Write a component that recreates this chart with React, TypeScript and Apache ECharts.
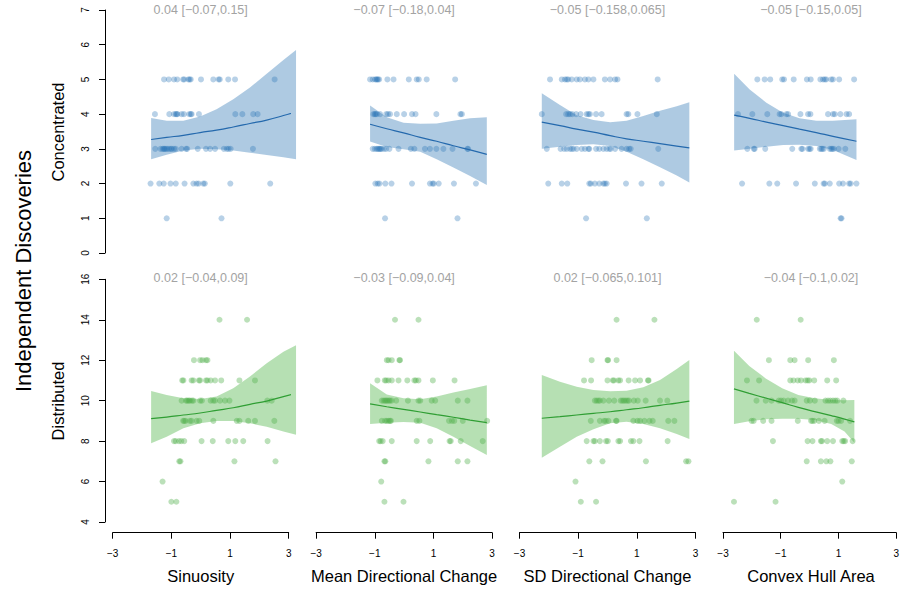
import React, { useEffect, useRef } from "react";
import * as echarts from "echarts";

// ---------- labels ----------
const xNames = ["Sinuosity", "Mean Directional Change", "SD Directional Change", "Convex Hull Area"];
const rowNames = ["Concentrated", "Distributed"];
const outerName = "Independent Discoveries";
const concAnnot = ["0.04 [\u22120.07,0.15]", "\u22120.07 [\u22120.18,0.04]", "\u22120.05 [\u22120.158,0.065]", "\u22120.05 [\u22120.15,0.05]"];
const distAnnot = ["0.02 [\u22120.04,0.09]", "\u22120.03 [\u22120.09,0.04]", "0.02 [\u22120.065,0.101]", "\u22120.04 [\u22120.1,0.02]"];

// axis ranges
const xRange = [-3, 3, 2]; // min, max, step
const concRange = [0, 7, 1];
const distRange = [4, 16, 2];

type Rows = [number, number[]][];

// ---------- points: [y level, x values] ----------
const concSinuosity: Rows = [
  [5, [-1.25, -1.09, -0.91, -0.8, -0.6, -0.56, -0.42, -0.38, -0.34, 0.01, 0.43, 0.61, 0.65, 0.94, 1.17, 2.52]],
  [4, [-1.56, -1.07, -0.91, -0.85, -0.82, -0.79, -0.65, -0.57, -0.39, -0.34, -0.31, -0.06, 1.18, 1.42, 1.79, 1.94]],
  [3, [-1.55, -1.37, -1.3, -1.26, -1.23, -1.19, -1.14, -1.08, -1.02, -0.98, -0.91, -0.85, -0.65, -0.5, -0.46, -0.1, 0.18, 0.32, 0.49, 0.79, 0.89, 0.95, 1.02, 1.78]],
  [2, [-1.71, -1.41, -1.26, -1.03, -0.85, -0.55, -0.25, -0.14, -0.07, 0.09, 0.14, 1.01, 2.37]],
  [1, [-1.16, 0.71]],
];
const concMeanDir: Rows = [
  [5, [-1.16, -1.07, -0.99, -0.95, -0.92, -0.89, -0.85, -0.57, -0.36, 0.16, 0.43, 0.5, 0.77, 1.74]],
  [4, [-1.05, -1.0, -0.97, -0.93, -0.82, -0.61, -0.55, -0.48, -0.25, 0.0, 0.27, 0.39, 1.1, 1.92, 1.97]],
  [3, [-1.07, -1.0, -0.94, -0.9, -0.86, -0.83, -0.8, -0.76, -0.68, -0.61, -0.5, -0.19, 0.23, 0.35, 0.71, 0.88, 1.1, 1.34, 1.65, 2.16, 2.18]],
  [2, [-0.98, -0.9, -0.84, -0.64, -0.43, 0.27, 0.88, 0.97, 1.01, 1.18, 1.7, 2.45]],
  [1, [-0.65, 1.82]],
];
const concSdDir: Rows = [
  [5, [-1.96, -1.56, -1.45, -1.39, -1.34, -1.22, -1.05, -0.94, -0.77, -0.65, -0.48, -0.09, 0.09, 0.26, 0.34, 1.71]],
  [4, [-2.24, -1.41, -1.34, -1.28, -1.2, -1.07, -0.92, -0.71, -0.65, -0.6, -0.39, -0.2, 0.65, 0.71, 1.02, 1.68]],
  [3, [-2.07, -1.6, -1.48, -1.39, -1.28, -1.22, -1.16, -1.05, -0.88, -0.77, -0.65, -0.62, -0.39, -0.28, -0.14, -0.03, 0.06, 0.11, 0.26, 0.48, 0.65, 0.74, 0.79, 1.73]],
  [2, [-2.02, -1.56, -1.37, -0.62, -0.57, -0.43, -0.28, -0.14, -0.09, -0.03, 0.63, 1.16, 1.85]],
  [1, [-0.73, 1.34]],
];
const concHull: Rows = [
  [5, [-1.83, -1.58, -1.39, -0.98, -0.92, -0.59, -0.14, -0.01, 0.32, 0.41, 0.47, 0.52, 0.69, 0.75, 0.96, 1.47]],
  [4, [-2.49, -2.0, -1.49, -1.07, -1.01, -0.84, -0.78, -0.36, -0.1, -0.02, 0.58, 0.75, 0.81, 1.0, 1.21, 1.3]],
  [3, [-2.17, -1.95, -1.92, -1.56, -0.64, -0.33, -0.29, -0.1, -0.05, -0.01, 0.3, 0.35, 0.39, 0.44, 0.64, 0.69, 0.73, 0.78, 0.94, 1.17]],
  [2, [-2.35, -1.42, -1.15, -0.51, 0.13, 0.43, 0.47, 0.64, 0.96, 1.09, 1.3, 1.35, 1.55]],
  [1, [1.01, 1.04]],
];
const distSinuosity: Rows = [
  [14, [0.64, 1.58]],
  [12, [-0.23, -0.02, 0.06, 0.18, 0.23]],
  [11, [-0.63, -0.59, -0.31, -0.25, -0.06, -0.02, 0.18, 0.23, 0.34, 0.49, 0.7, 1.32, 1.85]],
  [10, [-0.65, -0.5, -0.46, -0.41, -0.37, -0.3, -0.25, -0.02, 0.04, 0.34, 0.43, 0.49, 0.66, 0.83, 0.98, 2.27, 2.42]],
  [9, [-0.6, -0.56, -0.51, -0.37, -0.31, -0.14, -0.05, 0.43, 1.23, 1.32, 1.62, 1.85, 2.51]],
  [8, [-0.91, -0.85, -0.74, -0.66, -0.56, 0.03, 0.41, 0.94, 1.18, 1.45, 2.28]],
  [7, [-0.73, -0.69, 1.15, 2.55]],
  [6, [-1.3]],
  [5, [-1.0, -0.83]],
];
const distMeanDir: Rows = [
  [14, [-0.31, 0.49]],
  [12, [-0.59, -0.53, -0.42, -0.16, -0.14]],
  [11, [-0.91, -0.66, -0.61, -0.53, -0.42, -0.19, 0.11, 0.35, 0.4, 0.49, 0.98, 1.72]],
  [10, [-0.76, -0.7, -0.65, -0.61, -0.57, -0.52, -0.48, -0.42, -0.27, 0.13, 0.49, 0.55, 0.94, 1.06, 1.83, 2.16]],
  [9, [-0.76, -0.65, -0.59, -0.53, -0.48, -0.45, 0.43, 0.52, 1.53, 1.63, 1.71, 2.0, 2.83]],
  [8, [-0.85, -0.8, -0.73, -0.42, 0.43, 0.89, 1.55, 1.59, 1.93, 2.68]],
  [7, [-0.67, -0.64, 0.83, 1.83, 2.16]],
  [6, [-0.78]],
  [5, [-0.67, -0.02]],
];
const distSdDir: Rows = [
  [14, [0.31, 1.6]],
  [12, [-0.54, 0.0, 0.02, 0.31]],
  [11, [-0.8, -0.56, 0.0, 0.18, 0.22, 0.37, 0.43, 0.72, 0.94, 1.11, 1.38, 1.4]],
  [10, [-0.43, -0.37, -0.31, -0.26, -0.14, 0.05, 0.23, 0.45, 0.51, 0.56, 0.62, 0.68, 0.73, 0.9, 1.03, 1.3, 1.79, 2.04]],
  [9, [-0.57, -0.26, -0.12, -0.06, 0.03, 0.29, 0.31, 0.88, 1.02, 1.11, 1.26, 1.43, 1.54, 2.07, 2.28]],
  [8, [-0.71, -0.48, -0.43, -0.26, -0.05, 0.01, 0.37, 0.43, 0.8, 0.88, 1.09, 2.05]],
  [7, [-0.62, -0.17, 1.31, 2.68, 2.76]],
  [6, [-1.09]],
  [5, [-0.91, -0.39]],
];
const distHull: Rows = [
  [14, [-1.83, -0.31]],
  [12, [-1.41, -0.67, -0.52, -0.05, 0.84]],
  [11, [-2.17, -1.75, -0.67, -0.56, -0.41, -0.3, -0.14, -0.07, -0.01, 0.16, 0.61, 0.92]],
  [10, [-1.84, -1.52, -1.32, -1.07, -0.99, -0.9, -0.75, -0.61, -0.52, -0.1, 0.01, 0.18, 0.55, 0.64, 0.72, 0.81, 0.89, 0.96, 1.17]],
  [9, [-2.01, -1.94, -1.61, -1.32, -0.41, 0.05, 0.1, 0.16, 0.32, 0.52, 0.94, 1.0, 1.09, 1.4]],
  [8, [-1.27, -0.07, 0.1, 0.39, 0.43, 0.61, 0.81, 1.13, 1.18, 1.23, 1.49]],
  [7, [-0.1, 0.39, 0.58, 0.72, 1.46]],
  [6, [1.13]],
  [5, [-2.62, -1.18]],
];

// ---------- fitted curves: [x, lower, fit, upper] ----------
const concSinuosityFit = [
  [-1.69, 2.7, 3.27, 3.89], [-1.16, 2.83, 3.33, 3.81], [-0.59, 2.95, 3.39, 3.81], [-0.02, 3.0, 3.47, 3.93],
  [0.54, 2.99, 3.54, 4.14], [1.11, 2.95, 3.63, 4.43], [1.68, 2.89, 3.73, 4.77], [2.25, 2.82, 3.83, 5.16],
  [2.82, 2.76, 3.96, 5.56], [3.25, 2.7, 4.07, 5.85],
];
const concMeanDirFit = [
  [-1.16, 3.21, 3.71, 4.25], [-0.59, 3.05, 3.58, 3.91], [-0.02, 2.99, 3.46, 3.75], [0.55, 2.92, 3.33, 3.72],
  [1.11, 2.7, 3.22, 3.73], [1.68, 2.46, 3.09, 3.81], [2.25, 2.22, 2.97, 3.88], [2.82, 1.96, 2.84, 3.91],
];
const concSdDirFit = [
  [-2.24, 3.0, 3.77, 4.6], [-1.62, 3.06, 3.67, 4.26], [-1.05, 3.11, 3.57, 3.97], [-0.48, 3.13, 3.48, 3.83],
  [0.09, 3.08, 3.38, 3.77], [0.65, 2.92, 3.29, 3.81], [1.22, 2.7, 3.22, 3.95], [1.79, 2.47, 3.15, 4.1],
  [2.36, 2.23, 3.08, 4.23], [2.79, 2.03, 3.03, 4.34],
];
const concHullFit = [
  [-2.62, 2.95, 3.97, 5.16], [-2.09, 3.0, 3.88, 4.71], [-1.52, 3.06, 3.77, 4.33], [-0.95, 3.11, 3.67, 4.04],
  [-0.39, 3.12, 3.57, 3.88], [0.18, 3.08, 3.47, 3.81], [0.75, 2.97, 3.36, 3.81], [1.55, 2.68, 3.22, 3.85],
];
const distSinuosityFit = [
  [-1.69, 7.89, 9.11, 10.48], [-1.16, 8.22, 9.19, 10.28], [-0.59, 8.63, 9.29, 10.12], [-0.02, 8.88, 9.39, 10.08],
  [0.54, 9.0, 9.52, 10.2], [1.11, 9.0, 9.65, 10.61], [1.68, 8.88, 9.82, 11.19], [2.25, 8.71, 9.98, 11.85],
  [2.82, 8.47, 10.2, 12.42], [3.25, 8.32, 10.35, 12.74],
];
const distMeanDirFit = [
  [-1.16, 8.85, 9.84, 10.86], [-0.59, 8.91, 9.7, 10.31], [-0.02, 8.95, 9.57, 10.12], [0.55, 8.91, 9.44, 10.07],
  [1.11, 8.63, 9.31, 10.2], [1.68, 8.22, 9.18, 10.4], [2.25, 7.76, 9.04, 10.58], [2.82, 7.31, 8.91, 10.76],
];
const distSdDirFit = [
  [-2.24, 7.18, 9.13, 11.27], [-1.62, 7.72, 9.21, 10.94], [-1.05, 8.22, 9.29, 10.69], [-0.48, 8.58, 9.37, 10.53],
  [0.09, 8.88, 9.45, 10.46], [0.65, 8.96, 9.55, 10.49], [1.22, 8.84, 9.65, 10.66], [1.79, 8.63, 9.77, 11.02],
  [2.36, 8.35, 9.88, 11.56], [2.79, 8.1, 9.98, 12.01],
];
const distHullFit = [
  [-2.62, 8.85, 10.58, 12.47], [-2.09, 8.98, 10.36, 11.71], [-1.52, 9.08, 10.13, 11.1], [-0.95, 9.11, 9.9, 10.61],
  [-0.39, 9.11, 9.67, 10.28], [0.18, 9.04, 9.46, 10.12], [0.75, 8.85, 9.26, 10.03], [1.21, 8.47, 9.09, 10.02],
  [1.55, 7.92, 8.95, 10.03],
];

const panelPoints = [concSinuosity, concMeanDir, concSdDir, concHull, distSinuosity, distMeanDir, distSdDir, distHull];
const panelFits = [concSinuosityFit, concMeanDirFit, concSdDirFit, concHullFit, distSinuosityFit, distMeanDirFit, distSdDirFit, distHullFit];

// ---------- layout & style ----------
const colLeft = [112.7, 316.1, 519.5, 723.0];
const colWidth = 176;
const rowTop = [10, 279.3];
const rowHeight = [243, 242.7];
const FONT = '"Liberation Sans", Arial, Helvetica, sans-serif';
const palette = [
  { point: "rgba(33,113,181,0.4)", band: "rgba(120,166,207,0.6)", line: "#2469ad" },
  { point: "rgba(77,175,74,0.48)", band: "rgba(125,200,120,0.56)", line: "#2f9e33" },
];

const fmt = (v: number) => (v < 0 ? "\u2212" + Math.abs(v) : String(v));

function buildOption() {
  const grid: any[] = [];
  const xAxis: any[] = [];
  const yAxis: any[] = [];
  const series: any[] = [];
  const graphic: any[] = [];

  for (let i = 0; i < 8; i++) {
    const r = Math.floor(i / 4);
    const c = i % 4;
    const yr = r === 0 ? concRange : distRange;
    const pal = palette[r];
    grid.push({ left: colLeft[c], top: rowTop[r], width: colWidth, height: rowHeight[r], containLabel: false });
    xAxis.push({
      type: "value",
      gridIndex: i,
      min: xRange[0],
      max: xRange[1],
      interval: xRange[2],
      show: r === 1,
      offset: 10.7,
      axisLine: { show: true, onZero: false, lineStyle: { color: "#000", width: 1 } },
      axisTick: { show: true, length: 6, lineStyle: { color: "#000", width: 1 } },
      axisLabel: { fontSize: 10, color: "#000", margin: 16, fontFamily: FONT, formatter: fmt },
      splitLine: { show: false },
    });
    yAxis.push({
      type: "value",
      gridIndex: i,
      min: yr[0],
      max: yr[1],
      interval: yr[2],
      show: c === 0,
      offset: 7.7,
      axisLine: { show: true, onZero: false, lineStyle: { color: "#000", width: 1 } },
      axisTick: { show: true, length: 6, lineStyle: { color: "#000", width: 1 } },
      axisLabel: { fontSize: 10, color: "#000", margin: 15, rotate: 90, fontFamily: FONT, formatter: fmt },
      splitLine: { show: false },
    });

    const fit = panelFits[i];
    series.push({
      type: "custom",
      xAxisIndex: i,
      yAxisIndex: i,
      data: fit,
      encode: { x: 0, y: 1 },
      silent: true,
      z: 1,
      renderItem: (params: any, api: any) => {
        if (params.dataIndex !== 0) return null;
        const pts: number[][] = [];
        for (let k = 0; k < fit.length; k++) pts.push(api.coord([fit[k][0], fit[k][1]]));
        for (let k = fit.length - 1; k >= 0; k--) pts.push(api.coord([fit[k][0], fit[k][3]]));
        return { type: "polygon", shape: { points: pts }, style: { fill: pal.band } };
      },
    });

    const pts: number[][] = [];
    panelPoints[i].forEach(([yv, xs]) => xs.forEach((xv) => pts.push([xv, yv])));
    series.push({
      type: "scatter",
      xAxisIndex: i,
      yAxisIndex: i,
      data: pts,
      symbol: "circle",
      symbolSize: 6,
      itemStyle: { color: pal.point },
      silent: true,
      z: 2,
    });

    series.push({
      type: "line",
      xAxisIndex: i,
      yAxisIndex: i,
      data: fit.map((row) => [row[0], row[2]]),
      smooth: true,
      showSymbol: false,
      symbol: "none",
      clip: false,
      lineStyle: { color: pal.line, width: 1.2 },
      silent: true,
      z: 3,
    });

    graphic.push({
      type: "text",
      x: colLeft[c] + colWidth / 2,
      y: r === 0 ? 10 : 278,
      style: {
        text: (r === 0 ? concAnnot : distAnnot)[c],
        fill: "#a3a3a3",
        font: `12.5px ${FONT}`,
        align: "center",
        verticalAlign: "middle",
      },
    });
  }

  xNames.forEach((name, c) => {
    graphic.push({
      type: "text",
      x: colLeft[c] + colWidth / 2,
      y: 576,
      style: { text: name, fill: "#000", font: `16.5px ${FONT}`, align: "center", verticalAlign: "middle" },
    });
  });
  rowNames.forEach((name, r) => {
    graphic.push({
      type: "text",
      x: 57.5,
      y: r === 0 ? 132 : 401,
      rotation: Math.PI / 2,
      style: { text: name, fill: "#000", font: `16.5px ${FONT}`, align: "center", verticalAlign: "middle" },
    });
  });
  graphic.push({
    type: "text",
    x: 23,
    y: 271,
    rotation: Math.PI / 2,
    style: { text: outerName, fill: "#000", font: `22px ${FONT}`, align: "center", verticalAlign: "middle" },
  });

  return {
    animation: false,
    backgroundColor: "#fff",
    textStyle: { fontFamily: FONT },
    grid,
    xAxis,
    yAxis,
    series,
    graphic,
  };
}

export default function App() {
  const ref = useRef<HTMLDivElement>(null);
  useEffect(() => {
    if (!ref.current) return;
    const chart = echarts.init(ref.current, null, { renderer: "svg" });
    chart.setOption(buildOption() as any);
    return () => chart.dispose();
  }, []);
  return (
    <div
      ref={ref}
      style={{ position: "fixed", left: 0, top: 0, width: 902, height: 592, background: "#fff" }}
    />
  );
}
